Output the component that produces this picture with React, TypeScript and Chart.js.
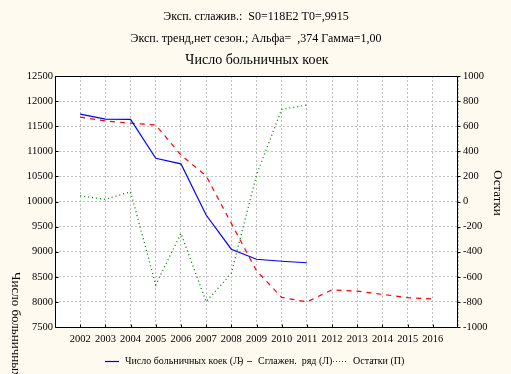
import React, { useEffect, useRef } from "react";
import { Chart, registerables } from "chart.js";

Chart.register(...registerables);

const years = [2002, 2003, 2004, 2005, 2006, 2007, 2008, 2009, 2010, 2011, 2012, 2013, 2014, 2015, 2016];
const beds = [11740, 11640, 11635, 10860, 10750, 9730, 9050, 8850, 8810, 8780];
const smoothed = [11680, 11605, 11560, 11525, 10925, 10510, 9565, 8620, 8090, 8000, 8240, 8215, 8150, 8085, 8060];
const residuals = [45, 17, 78, -665, -254, -798, -572, 211, 734, 769];

const leftTicks = [7500, 12500, 500];
const rightTicks = [-1000, 1000, 200];

const titleLines = [
  "Эксп. сглажив.:  S0=118E2 T0=,9915",
  "Эксп. тренд,нет сезон.; Альфа=  ,374 Гамма=1,00",
];
const mainTitle = "Число больничных коек";
const leftAxisTitle = "Число больничных коек";
const rightAxisTitle = "Остатки";
const legendLabels = ["Число больничных коек (Л)", "Сглажен.  ряд (Л)", "Остатки (П)"];

const BG = "#FFFAF0";
const FONT = "'Liberation Serif', 'Times New Roman', serif";

export default function App() {
  const ref = useRef<HTMLCanvasElement>(null);
  useEffect(() => {
    document.body.style.margin = "0";
    document.body.style.background = BG;
    const ctx = ref.current!.getContext("2d")!;
    const textPlugin = {
      id: "texts",
      beforeDraw(chart: any) {
        const c = chart.ctx;
        c.save();
        c.fillStyle = BG;
        c.fillRect(0, 0, chart.width, chart.height);
        const a = chart.chartArea;
        c.fillStyle = "#ffffff";
        c.fillRect(a.left, a.top, a.right - a.left, a.bottom - a.top);
        c.restore();
      },
      afterDraw(chart: any) {
        const c = chart.ctx;
        const a = chart.chartArea;
        const L = Math.round(a.left) + 0.5;
        const R = Math.round(a.right) - 0.5;
        const T = Math.round(a.top) + 0.5;
        const B = Math.round(a.bottom) + 0.5;
        c.save();
        c.strokeStyle = "#000";
        c.lineWidth = 1;
        c.setLineDash([]);
        c.beginPath();
        c.rect(L, T, R - L, B - T);
        // inward ticks
        const ys = chart.scales.y;
        ys.ticks.forEach((t: any) => {
          const py = Math.round(ys.getPixelForValue(t.value)) + 0.5;
          c.moveTo(L, py);
          c.lineTo(L + 3, py);
        });
        const xs = chart.scales.x;
        years.forEach((yr) => {
          const px = Math.round(xs.getPixelForValue(yr)) + 0.5;
          c.moveTo(px, B);
          c.lineTo(px, B - 3);
        });
        const y1 = chart.scales.y1;
        y1.ticks.forEach((t: any) => {
          const py = Math.round(y1.getPixelForValue(t.value)) + 0.5;
          c.moveTo(R, py);
          c.lineTo(R + 3, py);
        });
        c.stroke();
        c.fillStyle = "#000";
        c.textAlign = "center";
        c.textBaseline = "middle";
        c.font = `12px ${FONT}`;
        c.fillText(titleLines[0], 256, 17);
        c.fillText(titleLines[1], 256, 39);
        c.font = `14px ${FONT}`;
        c.fillText(mainTitle, 257, 60);
        // axis titles
        c.font = `13px ${FONT}`;
        c.save();
        c.translate(15, 272);
        c.rotate(Math.PI / 2);
        c.textAlign = "left";
        c.fillText(leftAxisTitle, 0, 0);
        c.restore();
        c.save();
        c.translate(497, 193);
        c.rotate(Math.PI / 2);
        c.fillText(rightAxisTitle, 0, 0);
        c.restore();
        // legend
        const ly = 361;
        c.font = `10px ${FONT}`;
        c.textAlign = "left";
        const items = [
          { x: 105, tx: 125, color: "#0000ff", dash: [] as number[] },
          { x: 238, tx: 258, color: "#ff0000", dash: [5, 4] },
          { x: 333, tx: 353, color: "#008000", dash: [1, 2] },
        ];
        items.forEach((it, i) => {
          c.strokeStyle = it.color;
          c.lineWidth = 1.2;
          c.setLineDash(it.dash);
          c.beginPath();
          c.moveTo(it.x, ly + 0.5);
          c.lineTo(it.x + 14, ly + 0.5);
          c.stroke();
          c.setLineDash([]);
          c.fillStyle = "#000";
          c.fillText(legendLabels[i], it.tx, ly);
        });
        c.restore();
      },
    };
    const chart = new Chart(ctx, {
      type: "line",
      data: {
        datasets: [
          {
            label: legendLabels[0],
            data: beds.map((v, i) => ({ x: years[i], y: v })),
            borderColor: "#0000ff",
            borderWidth: 1.2,
            pointRadius: 0,
            yAxisID: "y",
            tension: 0,
          },
          {
            label: legendLabels[1],
            data: smoothed.map((v, i) => ({ x: years[i], y: v })),
            borderColor: "#ff0000",
            borderWidth: 1.2,
            borderDash: [5, 5],
            pointRadius: 0,
            yAxisID: "y",
            tension: 0,
          },
          {
            label: legendLabels[2],
            data: residuals.map((v, i) => ({ x: years[i], y: v })),
            borderColor: "#008000",
            borderWidth: 1.3,
            borderDash: [1, 3],
            pointRadius: 0,
            yAxisID: "y1",
            tension: 0,
          },
        ],
      },
      options: {
        animation: false,
        responsive: false,
        layout: { padding: { top: 76, right: 0, bottom: 0, left: 0 } },
        plugins: { legend: { display: false }, title: { display: false }, tooltip: { enabled: false } },
        scales: {
          x: {
            type: "linear",
            min: 2001,
            max: 2017,
            afterFit(s: any) { s.height = 47; },
            ticks: {
              stepSize: 1,
              autoSkip: false,
              maxRotation: 0,
              color: "#000",
              padding: 6,
              font: { family: FONT, size: 10.5 },
              callback: (v: any) => (v >= years[0] && v <= years[years.length - 1] ? String(v) : ""),
            },
            grid: { color: "#c0c0c0", tickLength: 0 },
            border: { display: false, dash: [2, 2] } as any,
          },
          y: {
            position: "left",
            min: leftTicks[0],
            max: leftTicks[1],
            afterFit(s: any) { s.width = 55; },
            ticks: { stepSize: leftTicks[2], color: "#000", font: { family: FONT, size: 10.5 }, padding: 2, callback: (v: any) => String(v) },
            grid: { color: "#c0c0c0", tickLength: 0 },
            border: { display: false, dash: [2, 2] } as any,
          },
          y1: {
            position: "right",
            min: rightTicks[0],
            max: rightTicks[1],
            afterFit(s: any) { s.width = 53; },
            ticks: { stepSize: rightTicks[2], color: "#000", font: { family: FONT, size: 10.5 }, padding: 5, callback: (v: any) => String(v) },
            grid: { drawOnChartArea: false, tickLength: 0 },
            border: { display: false },
          },
        },
      } as any,
      plugins: [textPlugin],
    });
    return () => chart.destroy();
  }, []);
  return <canvas ref={ref} width={511} height={374} style={{ display: "block" }} />;
}
